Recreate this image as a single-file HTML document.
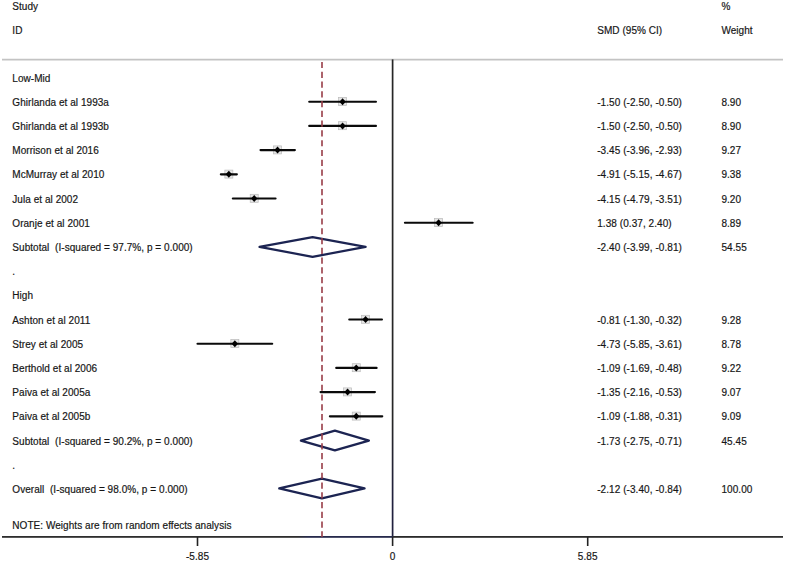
<!DOCTYPE html><html><head><meta charset="utf-8"><style>html,body{margin:0;padding:0;background:#fff;width:785px;height:562px;overflow:hidden}svg{display:block}text{font-family:"Liberation Sans",sans-serif;font-size:10px;fill:#161616;stroke:#161616;stroke-width:0.18px;white-space:pre;letter-spacing:0.05px}.r{letter-spacing:0.07px}</style></head><body>
<svg width="785" height="562" viewBox="0 0 785 562">
<defs><linearGradient id="gn" gradientUnits="userSpaceOnUse" x1="0" y1="420" x2="0" y2="500"><stop offset="0" stop-color="#262626"/><stop offset="1" stop-color="#20203e"/></linearGradient><linearGradient id="ga" gradientUnits="userSpaceOnUse" x1="2" y1="0" x2="783" y2="0"><stop offset="0" stop-color="#2e2e2e"/><stop offset="0.378" stop-color="#2e2e2e"/><stop offset="0.392" stop-color="#262a4c"/><stop offset="0.499" stop-color="#262a4c"/><stop offset="0.502" stop-color="#2a2a2a"/><stop offset="1" stop-color="#2e2e2e"/></linearGradient></defs>
<text x="12.3" y="9.5">Study</text>
<text x="12.3" y="33.6">ID</text>
<text x="597.2" y="33.6">SMD (95% CI)</text>
<text x="721.4" y="9.6">%</text>
<text x="721.4" y="33.6">Weight</text>
<line x1="2" y1="59.6" x2="783" y2="59.6" stroke="#c3c3c3" stroke-width="1.7"/>
<text x="12.3" y="81.50" xml:space="preserve">Low-Mid</text>
<text x="12.3" y="105.70" xml:space="preserve">Ghirlanda et al 1993a</text>
<text x="12.3" y="129.90" xml:space="preserve">Ghirlanda et al 1993b</text>
<text x="12.3" y="154.10" xml:space="preserve">Morrison et al 2016</text>
<text x="12.3" y="178.30" xml:space="preserve">McMurray et al 2010</text>
<text x="12.3" y="202.50" xml:space="preserve">Jula et al 2002</text>
<text x="12.3" y="226.70" xml:space="preserve">Oranje et al 2001</text>
<text x="12.3" y="250.90" xml:space="preserve">Subtotal  (I-squared = 97.7%, p = 0.000)</text>
<text x="12.3" y="275.10" xml:space="preserve">.</text>
<text x="12.3" y="299.30" xml:space="preserve">High</text>
<text x="12.3" y="323.50" xml:space="preserve">Ashton et al 2011</text>
<text x="12.3" y="347.70" xml:space="preserve">Strey et al 2005</text>
<text x="12.3" y="371.90" xml:space="preserve">Berthold et al 2006</text>
<text x="12.3" y="396.10" xml:space="preserve">Paiva et al 2005a</text>
<text x="12.3" y="420.30" xml:space="preserve">Paiva et al 2005b</text>
<text x="12.3" y="444.50" xml:space="preserve">Subtotal  (I-squared = 90.2%, p = 0.000)</text>
<text x="12.3" y="468.70" xml:space="preserve">.</text>
<text x="12.3" y="492.90" xml:space="preserve">Overall  (I-squared = 98.0%, p = 0.000)</text>
<text class="r" x="597.2" y="105.70">-1.50 (-2.50, -0.50)</text>
<text class="r" x="721.4" y="105.70">8.90</text>
<text class="r" x="597.2" y="129.90">-1.50 (-2.50, -0.50)</text>
<text class="r" x="721.4" y="129.90">8.90</text>
<text class="r" x="597.2" y="154.10">-3.45 (-3.96, -2.93)</text>
<text class="r" x="721.4" y="154.10">9.27</text>
<text class="r" x="597.2" y="178.30">-4.91 (-5.15, -4.67)</text>
<text class="r" x="721.4" y="178.30">9.38</text>
<text class="r" x="597.2" y="202.50">-4.15 (-4.79, -3.51)</text>
<text class="r" x="721.4" y="202.50">9.20</text>
<text class="r" x="597.2" y="226.70">1.38 (0.37, 2.40)</text>
<text class="r" x="721.4" y="226.70">8.89</text>
<text class="r" x="597.2" y="323.50">-0.81 (-1.30, -0.32)</text>
<text class="r" x="721.4" y="323.50">9.28</text>
<text class="r" x="597.2" y="347.70">-4.73 (-5.85, -3.61)</text>
<text class="r" x="721.4" y="347.70">8.78</text>
<text class="r" x="597.2" y="371.90">-1.09 (-1.69, -0.48)</text>
<text class="r" x="721.4" y="371.90">9.22</text>
<text class="r" x="597.2" y="396.10">-1.35 (-2.16, -0.53)</text>
<text class="r" x="721.4" y="396.10">9.07</text>
<text class="r" x="597.2" y="420.30">-1.09 (-1.88, -0.31)</text>
<text class="r" x="721.4" y="420.30">9.09</text>
<text class="r" x="597.2" y="250.90">-2.40 (-3.99, -0.81)</text>
<text class="r" x="721.4" y="250.90">54.55</text>
<text class="r" x="597.2" y="444.50">-1.73 (-2.75, -0.71)</text>
<text class="r" x="721.4" y="444.50">45.45</text>
<text class="r" x="597.2" y="492.90">-2.12 (-3.40, -0.84)</text>
<text class="r" x="721.4" y="492.90">100.00</text>
<text x="12.3" y="528.5">NOTE: Weights are from random effects analysis</text>
<rect x="391.75" y="59.4" width="1.7" height="477.6" fill="url(#gn)"/>
<rect x="2" y="536" width="781" height="1.8" fill="url(#ga)"/>
<line x1="197.50" y1="536.9" x2="197.50" y2="546" stroke="#222" stroke-width="1.6"/>
<text x="197.50" y="559.8" text-anchor="middle">-5.85</text>
<line x1="392.60" y1="536.9" x2="392.60" y2="546" stroke="#222" stroke-width="1.6"/>
<text x="392.60" y="559.8" text-anchor="middle">0</text>
<line x1="587.70" y1="536.9" x2="587.70" y2="546" stroke="#222" stroke-width="1.6"/>
<text x="587.70" y="559.8" text-anchor="middle">5.85</text>
<rect x="338.58" y="97.50" width="8.0" height="8.0" fill="#e6e6e6" stroke="#bababa" stroke-width="0.7"/>
<line x1="309.23" y1="101.70" x2="375.93" y2="101.70" stroke="#0a0a0a" stroke-width="2.15" stroke-linecap="round"/>
<path d="M339.38 101.70L342.58 98.20L345.78 101.70L342.58 105.20Z" fill="#000"/>
<rect x="338.58" y="121.70" width="8.0" height="8.0" fill="#e6e6e6" stroke="#bababa" stroke-width="0.7"/>
<line x1="309.23" y1="125.90" x2="375.93" y2="125.90" stroke="#0a0a0a" stroke-width="2.15" stroke-linecap="round"/>
<path d="M339.38 125.90L342.58 122.40L345.78 125.90L342.58 129.40Z" fill="#000"/>
<rect x="273.54" y="145.90" width="8.0" height="8.0" fill="#e6e6e6" stroke="#bababa" stroke-width="0.7"/>
<line x1="260.53" y1="150.10" x2="294.88" y2="150.10" stroke="#0a0a0a" stroke-width="2.15" stroke-linecap="round"/>
<path d="M274.34 150.10L277.54 146.60L280.74 150.10L277.54 153.60Z" fill="#000"/>
<rect x="224.85" y="170.10" width="8.0" height="8.0" fill="#e6e6e6" stroke="#bababa" stroke-width="0.7"/>
<line x1="220.85" y1="174.30" x2="236.86" y2="174.30" stroke="#0a0a0a" stroke-width="2.15" stroke-linecap="round"/>
<path d="M225.65 174.30L228.85 170.80L232.05 174.30L228.85 177.80Z" fill="#000"/>
<rect x="250.20" y="194.30" width="8.0" height="8.0" fill="#e6e6e6" stroke="#bababa" stroke-width="0.7"/>
<line x1="232.85" y1="198.50" x2="275.54" y2="198.50" stroke="#0a0a0a" stroke-width="2.15" stroke-linecap="round"/>
<path d="M251.00 198.50L254.20 195.00L257.40 198.50L254.20 202.00Z" fill="#000"/>
<rect x="434.62" y="218.50" width="8.0" height="8.0" fill="#e6e6e6" stroke="#bababa" stroke-width="0.7"/>
<line x1="404.94" y1="222.70" x2="472.64" y2="222.70" stroke="#0a0a0a" stroke-width="2.15" stroke-linecap="round"/>
<path d="M435.42 222.70L438.62 219.20L441.82 222.70L438.62 226.20Z" fill="#000"/>
<rect x="361.59" y="315.30" width="8.0" height="8.0" fill="#e6e6e6" stroke="#bababa" stroke-width="0.7"/>
<line x1="349.25" y1="319.50" x2="381.93" y2="319.50" stroke="#0a0a0a" stroke-width="2.15" stroke-linecap="round"/>
<path d="M362.39 319.50L365.59 316.00L368.79 319.50L365.59 323.00Z" fill="#000"/>
<rect x="230.85" y="339.50" width="8.0" height="8.0" fill="#e6e6e6" stroke="#bababa" stroke-width="0.7"/>
<line x1="197.50" y1="343.70" x2="272.21" y2="343.70" stroke="#0a0a0a" stroke-width="2.15" stroke-linecap="round"/>
<path d="M231.65 343.70L234.85 340.20L238.05 343.70L234.85 347.20Z" fill="#000"/>
<rect x="352.25" y="363.70" width="8.0" height="8.0" fill="#e6e6e6" stroke="#bababa" stroke-width="0.7"/>
<line x1="336.24" y1="367.90" x2="376.59" y2="367.90" stroke="#0a0a0a" stroke-width="2.15" stroke-linecap="round"/>
<path d="M353.05 367.90L356.25 364.40L359.45 367.90L356.25 371.40Z" fill="#000"/>
<rect x="343.58" y="387.90" width="8.0" height="8.0" fill="#e6e6e6" stroke="#bababa" stroke-width="0.7"/>
<line x1="320.56" y1="392.10" x2="374.92" y2="392.10" stroke="#0a0a0a" stroke-width="2.15" stroke-linecap="round"/>
<path d="M344.38 392.10L347.58 388.60L350.78 392.10L347.58 395.60Z" fill="#000"/>
<rect x="352.25" y="412.10" width="8.0" height="8.0" fill="#e6e6e6" stroke="#bababa" stroke-width="0.7"/>
<line x1="329.90" y1="416.30" x2="382.26" y2="416.30" stroke="#0a0a0a" stroke-width="2.15" stroke-linecap="round"/>
<path d="M353.05 416.30L356.25 412.80L359.45 416.30L356.25 419.80Z" fill="#000"/>
<path d="M259.53 246.95L312.56 237.10L365.59 246.95L312.56 256.80Z" fill="none" stroke="#1c2452" stroke-width="2.25" stroke-linejoin="round"/>
<path d="M300.89 440.55L334.90 430.70L368.92 440.55L334.90 450.40Z" fill="none" stroke="#1c2452" stroke-width="2.25" stroke-linejoin="round"/>
<path d="M279.21 488.45L321.90 478.60L364.59 488.45L321.90 498.30Z" fill="none" stroke="#1c2452" stroke-width="2.25" stroke-linejoin="round"/>
<line x1="322" y1="61.9" x2="322" y2="537" stroke="#983c47" stroke-width="1.6" stroke-dasharray="6.2 3.58"/>
</svg></body></html>
